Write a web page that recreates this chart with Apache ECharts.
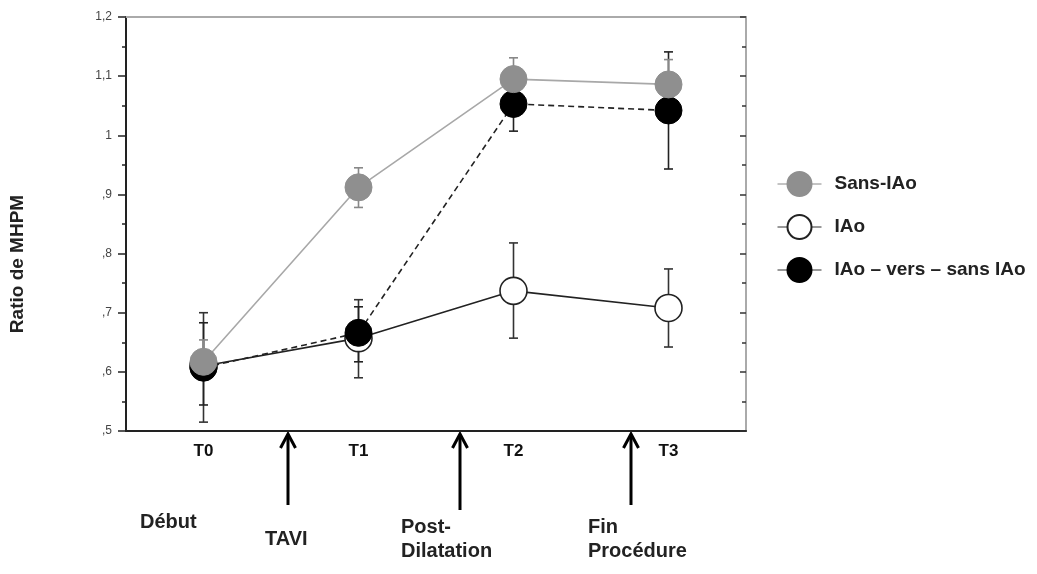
<!DOCTYPE html>
<html>
<head>
<meta charset="utf-8">
<script src="https://cdn.jsdelivr.net/npm/echarts@6/dist/echarts.min.js"></script>
<style>
html,body{margin:0;padding:0;background:#fff;}
#chart{width:1037px;height:574px;}
</style>
</head>
<body>
<div id="chart"></div>
<script>
const categories = ['T0', 'T1', 'T2', 'T3'];
const yTickLabels = [',5', ',6', ',7', ',8', ',9', '1', '1,1', '1,2'];
const seriesNames = ['Sans-IAo', 'IAo', 'IAo – vers – sans IAo'];

const sansMean = [0.617, 0.912, 1.095, 1.086];
const sansLow  = [0.586, 0.878, 1.062, 1.038];
const sansHigh = [0.654, 0.945, 1.131, 1.128];

const iaoMean = [0.610, 0.657, 0.737, 0.708];
const iaoLow  = [0.515, 0.590, 0.657, 0.642];
const iaoHigh = [0.700, 0.722, 0.818, 0.774];

const versMean = [0.607, 0.666, 1.053, 1.042];
const versLow  = [0.544, 0.617, 1.007, 0.943];
const versHigh = [0.683, 0.710, 1.100, 1.141];

const phaseLabels = ['Début', 'TAVI', 'Post-\nDilatation', 'Fin\nProcédure'];

const FONT = '"Liberation Sans", Arial, sans-serif';

function errData(low, high) {
  return categories.map((c, i) => [i, low[i], high[i]]);
}
function errSeries(name, low, high, color) {
  return {
    type: 'custom',
    name: name + '-err',
    data: errData(low, high),
    encode: { x: 0, y: [1, 2] },
    z: 1,
    silent: true,
    renderItem: function (params, api) {
      const lo = api.coord([api.value(0), api.value(1)]);
      const hi = api.coord([api.value(0), api.value(2)]);
      const cw = 4.5;
      const st = { stroke: color, lineWidth: 1.6 };
      return {
        type: 'group',
        children: [
          { type: 'line', shape: { x1: lo[0], y1: lo[1], x2: hi[0], y2: hi[1] }, style: st },
          { type: 'line', shape: { x1: lo[0] - cw, y1: lo[1], x2: lo[0] + cw, y2: lo[1] }, style: st },
          { type: 'line', shape: { x1: hi[0] - cw, y1: hi[1], x2: hi[0] + cw, y2: hi[1] }, style: st }
        ]
      };
    }
  };
}

const chart = echarts.init(document.getElementById('chart'), null, { renderer: 'canvas' });

const option = {
  backgroundColor: '#fff',
  animation: false,
  grid: { left: 126, right: 291, top: 17, bottom: 143 },
  legend: {
    orient: 'vertical',
    left: 772,
    top: 166,
    itemWidth: 44,
    itemHeight: 30,
    itemGap: 17,
    textStyle: { fontFamily: FONT, fontWeight: 'bold', fontSize: 19, color: '#222', padding: [0, 0, 0, 8] },
    data: [
      { name: seriesNames[0], lineStyle: { color: '#888', width: 1, type: 'solid' } },
      { name: seriesNames[1], lineStyle: { color: '#333', width: 1, type: 'solid' } },
      { name: seriesNames[2], lineStyle: { color: '#333', width: 1, type: 'solid' } }
    ]
  },
  xAxis: [
    {
      type: 'category',
      data: categories,
      position: 'bottom',
      boundaryGap: true,
      axisLine: { lineStyle: { color: '#222', width: 2 } },
      axisTick: { alignWithLabel: true, length: 4, lineStyle: { color: '#222' } },
      axisLabel: { fontFamily: FONT, fontWeight: 'bold', fontSize: 17, color: '#111', margin: 12 }
    },
    {
      type: 'category',
      data: categories,
      position: 'top',
      boundaryGap: true,
      axisLine: { onZero: false, lineStyle: { color: '#aaa', width: 2 } },
      axisTick: { alignWithLabel: true, inside: true, length: 4, interval: function (i) { return i === 0; }, lineStyle: { color: '#444' } },
      axisLabel: { show: false }
    }
  ],
  yAxis: [
    {
      type: 'value',
      min: 0.5, max: 1.2, interval: 0.1,
      position: 'left',
      splitLine: { show: false },
      axisLine: { show: true, lineStyle: { color: '#222', width: 2 } },
      axisTick: { show: true, length: 8, lineStyle: { color: '#222', width: 1.5 } },
      minorTick: { show: true, splitNumber: 2, length: 4, lineStyle: { color: '#222', width: 1.5 } },
      axisLabel: {
        fontFamily: FONT, fontSize: 12, color: '#444', margin: 14,
        formatter: function (v) { return yTickLabels[Math.round((v - 0.5) * 10)]; }
      }
    },
    {
      type: 'value',
      min: 0.5, max: 1.2, interval: 0.1,
      position: 'right',
      splitLine: { show: false },
      axisLine: { show: true, onZero: false, lineStyle: { color: '#aaa', width: 2 } },
      axisTick: { show: true, inside: true, length: 6, lineStyle: { color: '#333', width: 1.5 } },
      minorTick: { show: true, splitNumber: 2, length: 4, lineStyle: { color: '#333', width: 1.5 } },
      axisLabel: { show: false }
    }
  ],
  series: [
    errSeries(seriesNames[1], iaoLow, iaoHigh, '#333'),
    errSeries(seriesNames[2], versLow, versHigh, '#222'),
    errSeries(seriesNames[0], sansLow, sansHigh, '#888'),
    {
      type: 'line',
      name: seriesNames[1],
      data: iaoMean,
      symbol: 'circle',
      symbolSize: 27,
      z: 3,
      lineStyle: { color: '#222', width: 1.6, type: 'solid' },
      itemStyle: { color: '#fff', borderColor: '#222', borderWidth: 1.6 }
    },
    {
      type: 'line',
      name: seriesNames[2],
      data: versMean,
      symbol: 'circle',
      symbolSize: 27,
      z: 4,
      lineStyle: { color: '#222', width: 1.6, type: [6, 4] },
      itemStyle: { color: '#000', borderColor: '#000', borderWidth: 1 }
    },
    {
      type: 'line',
      name: seriesNames[0],
      data: sansMean,
      symbol: 'circle',
      symbolSize: 27,
      z: 5,
      lineStyle: { color: '#a8a8a8', width: 1.6, type: 'solid' },
      itemStyle: { color: '#8f8f8f', borderColor: '#8f8f8f', borderWidth: 1 }
    }
  ]
};
chart.setOption(option);

// Annotations below the axis
const arrowXs = [288, 460, 631];
const arrowBottoms = [505, 510, 505];
const g = [];
g.push({
  type: 'text', rotation: Math.PI / 2, x: 18, y: 264,
  style: { text: 'Ratio de MHPM', fontFamily: FONT, fontWeight: 'bold', fontSize: 19, fill: '#222', align: 'center', verticalAlign: 'middle' }
});
arrowXs.forEach((x, i) => {
  g.push({ type: 'line', shape: { x1: x, y1: arrowBottoms[i], x2: x, y2: 436 }, style: { stroke: '#000', lineWidth: 3 } });
  g.push({ type: 'polyline', shape: { points: [[x - 7.5, 448], [x, 434], [x + 7.5, 448]] }, style: { stroke: '#000', lineWidth: 3, fill: null } });
});
const textPos = [[140, 522], [265, 539], [401, 539], [588, 539]];
phaseLabels.forEach((t, i) => {
  g.push({
    type: 'text', x: textPos[i][0], y: textPos[i][1],
    style: { text: t, fontFamily: FONT, fontWeight: 'bold', fontSize: 20, fill: '#222', align: 'left', verticalAlign: 'middle', lineHeight: 24 }
  });
});
chart.setOption({ graphic: g });
</script>
</body>
</html>
